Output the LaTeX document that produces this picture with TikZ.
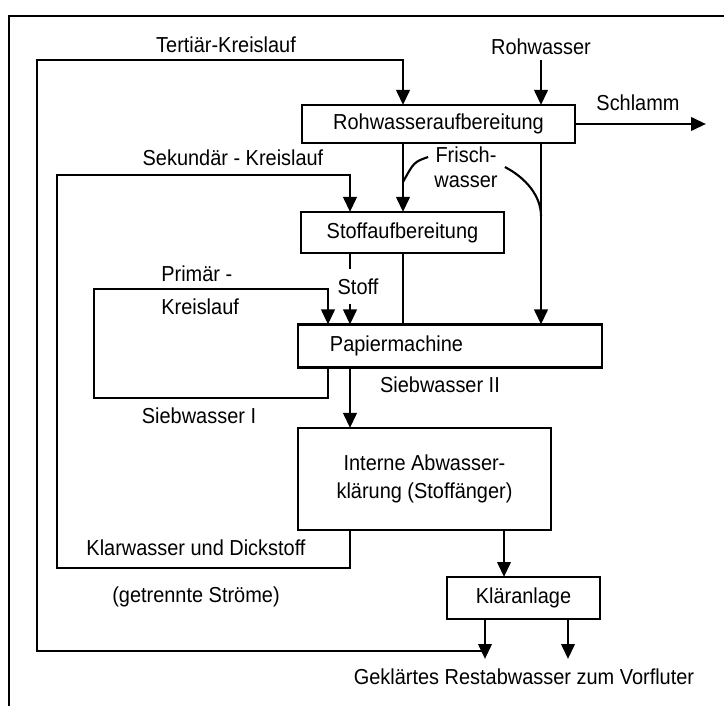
\documentclass[tikz,border=0pt]{standalone}
\usepackage{fontspec}
\setmainfont{Liberation Sans}[FakeStretch=0.92]
\usetikzlibrary{arrows.meta,positioning,calc}

\begin{document}
\begin{tikzpicture}[x=0.03cm,y=-0.03cm,font=\fontsize{18.5}{22}\selectfont,line width=2.4pt,
  box/.style={draw,rectangle,inner sep=0pt,outer sep=0pt},
  pfeil/.style={-{Triangle[length=0.45cm,width=0.4cm]}},
  leit/.style={line width=1.8pt}]

\useasboundingbox (0,0) rectangle (724,706);
\draw[line width=1.5pt] (9,706) -- (9,16) -- (724,16);

% Anlagen
\node[box,minimum width=8.19cm,minimum height=1.14cm] (rohaufb) at (438.5,124) {Rohwasseraufbereitung};
\node[box,minimum width=6.09cm,minimum height=1.23cm] (stoffaufb) at (402.5,232.5) {Stoffaufbereitung};
\node[box,minimum height=1.29cm,inner xsep=0.96cm,text width=7.2cm,align=left] (papier) at (450,346) {Papiermachine};
\node[box,minimum width=7.59cm,minimum height=3.06cm,align=center,font=\fontsize{18.5}{24}\selectfont] (abwasser) at (424.5,479) {Interne Abwasser-\\klärung (Stoffänger)};
\node[box,minimum width=4.59cm,minimum height=1.26cm] (klaer) at (523.5,598) {Kläranlage};

% Beschriftungen
\node (tertiaer) at (226,45) {Tertiär-Kreislauf};
\node (rohwasser) at (541,47) {Rohwasser};
\node (schlamm) at (638,103) {Schlamm};
\node (sekundaer) at (233,158) {Sekundär - Kreislauf};
\node[align=center,font=\fontsize{18.5}{21}\selectfont] (frisch) at (466,167) {Frisch-\\wasser};
\node[anchor=west] (primaer) at (156,274) {Primär -};
\node[anchor=west] (kreislauf) at (156,307) {Kreislauf};
\node (sieb2) at (440,385) {Siebwasser II};
\node (sieb1) at (199,416) {Siebwasser I};
\node (klarwasser) at (196,548) {Klarwasser und Dickstoff};
\node (getrennt) at (196,597) {(getrennte Ströme)};
\node (geklaert) at (524,677) {Geklärtes Restabwasser zum Vorfluter};

% Leitungen
\coordinate (l1) at (328,0);
\coordinate (l2) at (350,0);
\coordinate (l3) at (403,0);
\coordinate (l4) at (541,0);
\coordinate (l5) at (504,0);
\coordinate (sammel) at (485,651);
\coordinate (ausL) at (485,659);
\coordinate (ausR) at (568,659);
\coordinate (schlammende) at (706,124);

\draw[pfeil] (sammel) -- (37,651) -- (37,60) -| (rohaufb.north -| l3);
\draw[pfeil] (rohwasser) -- (rohwasser |- rohaufb.north);
\draw[pfeil] (rohaufb.east) -- (schlammende);
\draw[pfeil] (rohaufb.south -| l3) -- (stoffaufb.north -| l3);
\draw[pfeil] (rohaufb.south -| l4) -- (papier.north -| l4);
\draw[leit] ($(frisch.west)+(-1,-10)$) .. controls (414,162) .. (l3 |- 0,182);
\draw[leit] ($(frisch.east)+(2,0)$) .. controls (526,178) and (541,196) .. (l4 |- 0,216);
\draw[pfeil] (abwasser.south -| l2) |- (57,568) -- (57,175) -| (stoffaufb.north -| l2);
\draw[pfeil] (stoffaufb.south -| l2) -- node[fill=white,inner xsep=1pt,inner ysep=8pt,xshift=0.24cm,pos=0.47] (stoff) {Stoff} (papier.north -| l2);
\draw (stoffaufb.south -| l3) -- (papier.north -| l3);
\draw[pfeil] (papier.south -| l1) |- (94,398) -- (94,289) -| (papier.north -| l1);
\draw[pfeil] (papier.south -| l2) -- (abwasser.north -| l2);
\draw[pfeil] (abwasser.south -| l5) -- (klaer.north -| l5);
\draw[pfeil] (klaer.south -| ausL) -- (ausL);
\draw[pfeil] (klaer.south -| ausR) -- (ausR);

\end{tikzpicture}
\end{document}
